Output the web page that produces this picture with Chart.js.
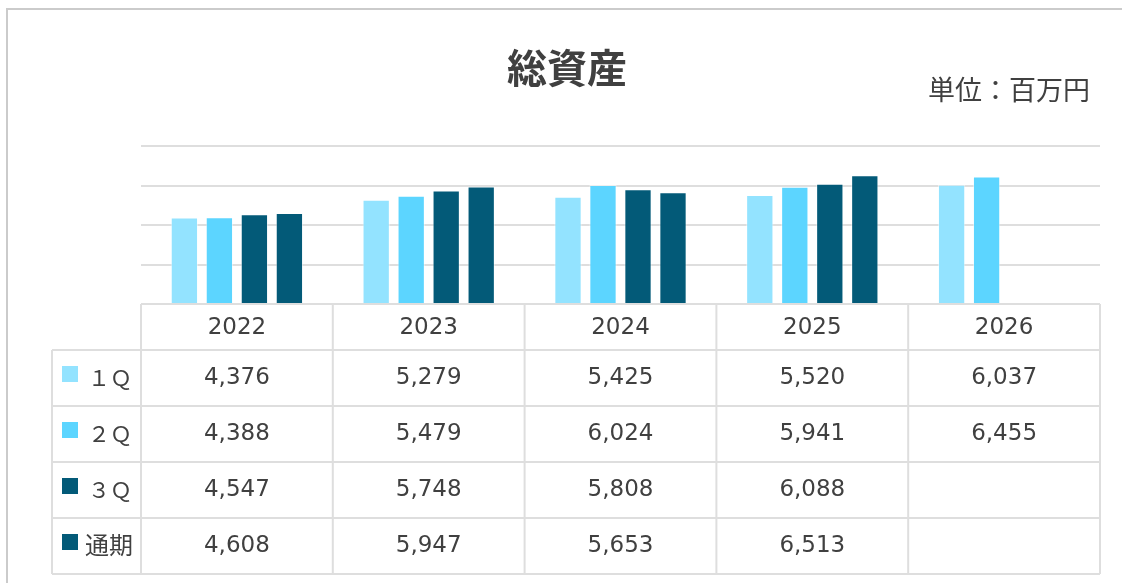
<!DOCTYPE html>
<html lang="ja">
<head>
<meta charset="utf-8">
<title>総資産</title>
<script src="https://cdn.jsdelivr.net/npm/chart.js@4/dist/chart.umd.min.js"></script>
<style>
  html, body { margin: 0; padding: 0; background: #fff; }
  #wrap { position: relative; width: 1122px; height: 583px; overflow: hidden; }
  #frame { position: absolute; left: 6px; top: 8px; width: 1200px; height: 700px;
           border-top: 2px solid #cbcbcb; border-left: 2px solid #cbcbcb; }
  #chart { position: absolute; left: 0; top: 0; }
</style>
</head>
<body>
<div id="wrap">
  <div id="frame"></div>
  <canvas id="chart" width="1122" height="583"></canvas>
</div>
<script>
// data
const years = ['2022', '2023', '2024', '2025', '2026'];
const seriesNames = ['１Ｑ', '２Ｑ', '３Ｑ', '通期'];
const q1 = [4376, 5279, 5425, 5520, 6037];
const q2 = [4388, 5479, 6024, 5941, 6455];
const q3 = [4547, 5748, 5808, 6088, null];
const fy = [4608, 5947, 5653, 6513, null];
const colors = ['#93e3ff', '#5cd5ff', '#035a78', '#035a78'];

const titleText = '総資産';
const unitText = '単位：百万円';
const textColor = '#404040';
const lineColor = '#dedede';
const jpFont = '"Noto Sans CJK JP", "Noto Sans", sans-serif';
const numFont = '"DejaVu Sans", Verdana, sans-serif';

// draws the title, unit and the data table under the plot
const tablePlugin = {
    id: 'dataTable',
    afterDraw(chart) {
        const ctx = chart.ctx;
        const area = chart.chartArea;
        const xs = chart.scales.x;
        const colW = (area.right - area.left) / years.length;
        const headH = 46, rowH = 56, labelLeft = 52;
        const top = area.bottom;
        const rowsTop = top + headH;
        const bottom = rowsTop + rowH * seriesNames.length;

        ctx.save();
        ctx.fillStyle = textColor;
        ctx.textBaseline = 'middle';

        ctx.font = 'bold 40px ' + jpFont;
        ctx.textAlign = 'center';
        ctx.fillText(titleText, 567, 68);

        ctx.font = '27px ' + jpFont;
        ctx.textAlign = 'right';
        ctx.fillText(unitText, 1090, 90);

        // grid lines of the table
        ctx.strokeStyle = lineColor;
        ctx.lineWidth = 2;
        ctx.beginPath();
        for (let i = 0; i <= years.length; i++) {
            const x = area.left + i * colW;
            ctx.moveTo(x, top);
            ctx.lineTo(x, bottom);
        }
        ctx.moveTo(labelLeft, rowsTop);
        ctx.lineTo(labelLeft, bottom);
        ctx.moveTo(area.left, top);
        ctx.lineTo(area.right, top);
        for (let r = 0; r <= seriesNames.length; r++) {
            const y = rowsTop + r * rowH;
            ctx.moveTo(labelLeft, y);
            ctx.lineTo(area.right, y);
        }
        ctx.stroke();

        // header
        ctx.textAlign = 'center';
        ctx.font = '23px ' + numFont;
        years.forEach((yr, i) => {
            ctx.fillText(yr, xs.getPixelForValue(i), top + headH / 2 + 1);
        });

        // rows
        chart.data.datasets.forEach((ds, r) => {
            const cy = rowsTop + r * rowH + rowH / 2;
            ctx.fillStyle = ds.backgroundColor;
            ctx.fillRect(62, cy - 12, 16, 16);
            ctx.fillStyle = textColor;
            ctx.textAlign = 'left';
            if (r === 3) {
                ctx.font = '24px ' + jpFont;
                ctx.fillText(ds.label, 85, cy - 1);
            } else {
                ctx.font = '22px ' + jpFont;
                ctx.fillText(ds.label, 88, cy);
            }
            ctx.textAlign = 'center';
            ctx.font = '23px ' + numFont;
            ds.data.forEach((v, i) => {
                if (v == null) return;
                ctx.fillText(v.toLocaleString('en-US'), xs.getPixelForValue(i), cy);
            });
        });
        ctx.restore();
    }
};

const allSeries = [q1, q2, q3, fy];

new Chart(document.getElementById('chart'), {
    type: 'bar',
    data: {
        labels: years,
        datasets: allSeries.map((d, i) => ({
            label: seriesNames[i],
            data: d,
            backgroundColor: colors[i],
            borderColor: 'rgba(255,255,255,0.5)',
            borderWidth: 1,
            categoryPercentage: 0.73,
            barPercentage: 0.78
        }))
    },
    options: {
        responsive: false,
        animation: false,
        layout: { padding: { left: 141, right: 22, top: 146, bottom: 279 } },
        plugins: {
            legend: { display: false },
            title: { display: false },
            tooltip: { enabled: false }
        },
        scales: {
            x: { display: false },
            y: {
                min: 0,
                max: 8000,
                ticks: { display: false, stepSize: 2000 },
                grid: { color: lineColor, lineWidth: 2, drawTicks: false },
                border: { display: false }
            }
        }
    },
    plugins: [tablePlugin]
});
</script>
</body>
</html>
